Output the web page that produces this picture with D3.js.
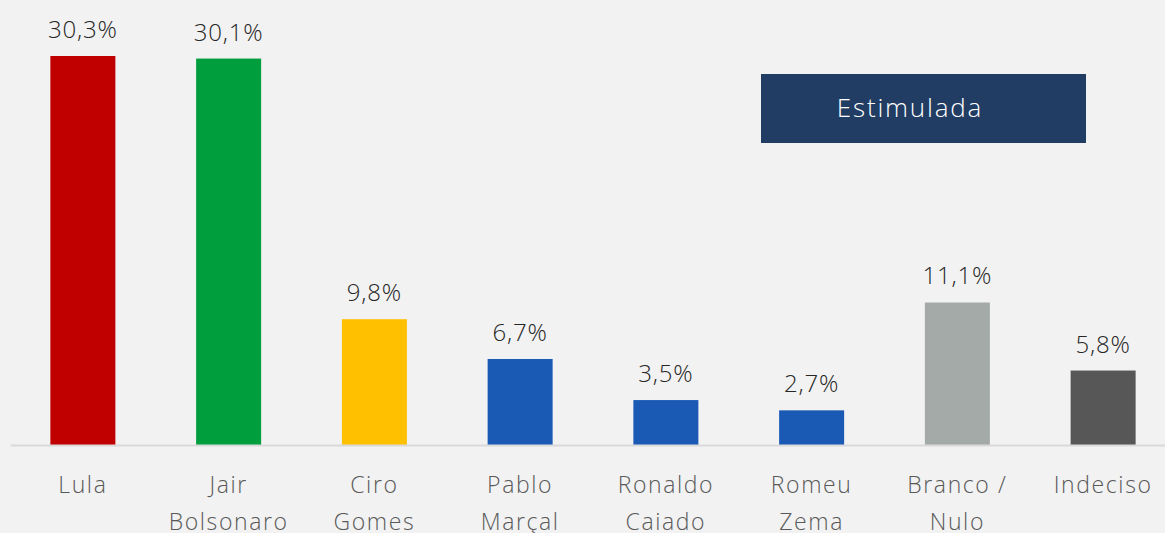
<!DOCTYPE html>
<html>
<head>
<meta charset="utf-8">
<script src="https://cdn.jsdelivr.net/npm/d3@7"></script>
<style>
  html, body { margin: 0; padding: 0; background: #f2f2f2; }
  svg { display: block; font-family: "Open Sans", Inter, sans-serif; }
</style>
</head>
<body>
<div id="chart"></div>
<script>
const categories = ['Lula', 'Jair\nBolsonaro', 'Ciro\nGomes', 'Pablo\nMarçal', 'Ronaldo\nCaiado', 'Romeu\nZema', 'Branco /\nNulo', 'Indeciso'];
const values = [30.3, 30.1, 9.8, 6.7, 3.5, 2.7, 11.1, 5.8];
const colors = ['#c00000', '#009e3d', '#ffc000', '#1a5ab5', '#1a5ab5', '#1a5ab5', '#a4aaa8', '#575757'];
const legendLabel = 'Estimulada';

const W = 1165, H = 533;
const FONT = '"Open Sans", Inter, sans-serif';
const svg = d3.select('#chart').append('svg').attr('width', W).attr('height', H);
svg.append('rect').attr('width', W).attr('height', H).attr('fill', '#f2f2f2');

// escalas
const x = d3.scaleBand().domain(categories).range([10, 1176]).paddingInner(0.554).paddingOuter(0.277);
const y = d3.scaleLinear().domain([0, 30.3]).range([445, 56]);

// barras
svg.append('g')
  .selectAll('rect')
  .data(values)
  .enter()
  .append('rect')
  .attr('x', (d, i) => x(categories[i]))
  .attr('y', d => y(d))
  .attr('width', x.bandwidth())
  .attr('height', d => y(0) - y(d))
  .attr('fill', (d, i) => colors[i]);

// rótulos de valor
svg.append('g')
  .selectAll('text')
  .data(values)
  .enter()
  .append('text')
  .attr('x', (d, i) => x(categories[i]) + x.bandwidth() / 2)
  .attr('y', d => y(d) - 18)
  .attr('text-anchor', 'middle')
  .attr('font-family', FONT)
  .attr('font-size', 24)
  .attr('font-weight', 300)
  .attr('letter-spacing', 0.8)
  .attr('fill', '#262626')
  .text(d => d.toFixed(1).replace('.', ',') + '%');

// eixo x
const axis = svg.append('g')
  .attr('transform', `translate(0,${y(0)})`)
  .call(d3.axisBottom(x).tickSize(0).tickFormat(''));
axis.select('.domain').attr('stroke', '#d9d9d9').attr('stroke-width', 2);

axis.selectAll('.tick').each(function(d) {
  const t = d3.select(this).append('text')
    .attr('text-anchor', 'middle')
    .attr('fill', '#595959')
    .attr('font-family', FONT)
    .attr('font-size', 23)
    .attr('font-weight', 300)
    .attr('letter-spacing', 1.6)
    .attr('y', 48);
  d.split('\n').forEach((line, i) => {
    t.append('tspan').attr('x', 0).attr('dy', i === 0 ? 0 : 37).text(line);
  });
});

// legenda
const lg = svg.append('g').attr('transform', 'translate(761,74)');
lg.append('rect').attr('width', 325).attr('height', 69).attr('fill', '#223d64');
lg.append('text')
  .attr('x', 149)
  .attr('y', 43)
  .attr('text-anchor', 'middle')
  .attr('fill', '#ffffff')
  .attr('font-family', FONT)
  .attr('font-size', 26)
  .attr('font-weight', 300)
  .attr('letter-spacing', 1.8)
  .text(legendLabel);
</script>
</body>
</html>
